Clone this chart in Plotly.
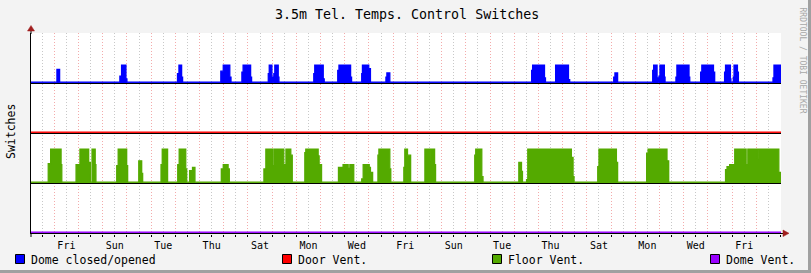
import plotly.graph_objects as go

# ---------------- data (x in days from the first Friday midnight) ----------------
X_MIN, X_MAX = -0.962, 30.02
Y_MIN, Y_MAX = -0.02, 4.0

DAY_NAMES = ["Fri", "Sat", "Sun", "Mon", "Tue", "Wed", "Thu"]   # day 0 is a Friday
FIRST_DAY, LAST_DAY = -1, 30

SERIES_NAMES = ["Dome closed/opened", "Door Vent.", "Floor Vent.", "Dome Vent."]

# (start_day, end_day, level 0..1)
DOME_OPEN = [
    (0.11, 0.22, 0.75),
    (2.71, 2.78, 0.35), (2.78, 2.96, 1.0), (2.96, 3.00, 0.2),
    (5.09, 5.15, 0.5), (5.15, 5.26, 1.0), (5.26, 5.30, 0.3),
    (6.88, 6.98, 0.65), (6.98, 7.25, 1.0), (7.25, 7.30, 0.3),
    (7.75, 7.80, 0.6), (7.80, 8.11, 1.0), (8.11, 8.15, 0.3),
    (8.84, 8.88, 0.5), (8.88, 8.99, 1.0), (8.99, 9.02, 0.3),
    (9.07, 9.11, 0.5), (9.11, 9.25, 1.0), (9.25, 9.28, 0.3),
    (10.72, 10.76, 0.5), (10.76, 11.11, 1.0), (11.11, 11.15, 0.2),
    (11.71, 11.76, 0.7), (11.76, 12.24, 1.0), (12.24, 12.28, 0.3),
    (12.70, 12.73, 0.5), (12.73, 12.99, 1.0), (12.99, 13.06, 0.8),
    (13.70, 13.74, 0.3), (13.74, 13.86, 0.55),
    (19.72, 19.76, 0.7), (19.76, 20.25, 1.0), (20.25, 20.29, 0.25),
    (20.71, 21.24, 1.0), (21.24, 21.29, 0.15),
    (23.11, 23.16, 0.3), (23.16, 23.27, 0.55),
    (24.72, 24.76, 0.7), (24.76, 24.90, 1.0), (24.90, 24.94, 0.25),
    (24.98, 25.02, 0.35), (25.02, 25.20, 1.0), (25.20, 25.23, 0.3),
    (25.68, 25.72, 0.3), (25.72, 26.22, 1.0), (26.22, 26.25, 0.3),
    (26.70, 26.75, 0.6), (26.75, 27.23, 1.0), (27.23, 27.28, 0.6),
    (27.69, 27.73, 0.6), (27.73, 27.93, 1.0), (27.93, 27.95, 0.2),
    (28.05, 28.08, 0.3), (28.08, 28.22, 1.0), (28.22, 28.26, 0.6),
    (29.69, 29.73, 0.25), (29.73, 30.02, 1.0),
]

DOOR_VENT = []

FLOOR_VENT = [
    (-0.25, -0.15, 0.56), (-0.15, 0.28, 1.0), (0.28, 0.31, 0.53),
    (0.90, 1.06, 0.53), (1.06, 1.42, 1.0), (1.42, 1.49, 0.6),
    (1.56, 1.69, 1.0), (1.69, 1.72, 0.53),
    (2.58, 2.64, 0.5), (2.64, 2.99, 1.0), (2.99, 3.03, 0.5),
    (3.49, 3.61, 0.65), (3.61, 3.65, 0.27),
    (4.41, 4.46, 0.53), (4.46, 4.68, 1.0),
    (5.10, 5.16, 0.53), (5.16, 5.43, 1.0), (5.43, 5.47, 0.4),
    (5.59, 5.71, 0.35), (5.71, 5.81, 0.45),
    (6.90, 6.98, 0.4), (6.98, 7.18, 0.53), (7.18, 7.23, 0.4),
    (8.66, 8.74, 0.4), (8.74, 9.04, 1.0), (9.04, 9.10, 0.5), (9.10, 9.48, 1.0),
    (9.48, 9.57, 0.53), (9.57, 9.77, 1.0), (9.77, 9.83, 0.82),
    (10.35, 10.39, 0.9), (10.39, 10.90, 1.0), (10.90, 10.94, 0.8), (10.94, 11.04, 0.53),
    (11.74, 11.93, 0.45), (11.93, 12.14, 0.53), (12.14, 12.21, 0.42), (12.21, 12.37, 0.53),
    (12.70, 12.76, 0.1), (12.76, 13.01, 0.53), (13.01, 13.06, 0.45), (13.06, 13.15, 0.3),
    (13.37, 13.41, 0.82), (13.41, 13.86, 1.0), (13.86, 13.90, 0.4),
    (14.44, 14.48, 0.45), (14.48, 14.59, 1.0), (14.59, 14.72, 0.82),
    (15.31, 15.55, 1.0), (15.55, 15.59, 0.65), (15.59, 15.71, 1.0), (15.71, 15.75, 0.53),
    (17.37, 17.41, 0.82), (17.41, 17.66, 1.0), (17.66, 17.71, 0.17),
    (19.19, 19.30, 0.6), (19.30, 19.34, 0.33),
    (19.51, 19.56, 0.08), (19.56, 21.36, 1.0), (21.36, 21.43, 0.75), (21.43, 21.47, 0.17),
    (22.45, 22.50, 0.47), (22.50, 23.22, 1.0), (23.22, 23.27, 0.6),
    (24.47, 24.53, 0.88), (24.53, 25.31, 1.0), (25.31, 25.38, 0.65),
    (27.73, 27.79, 0.38), (27.79, 27.90, 0.47), (27.90, 28.11, 0.53),
    (28.11, 28.58, 1.0), (28.58, 28.65, 0.53), (28.65, 29.03, 1.0),
    (29.03, 29.08, 0.71), (29.08, 29.93, 1.0), (29.93, 30.02, 0.3),
]

DOME_VENT = []

SERIES_DATA = [DOME_OPEN, DOOR_VENT, FLOOR_VENT, DOME_VENT]

# ---------------- styling / layout constants ----------------
SERIES_COLORS = ["#0000FF", "#FF0000", "#54AA00", "#9900FF"]
SERIES_BASE = [3, 2, 1, 0]
SERIES_AMP = [0.355, 0.0, 0.675, 0.0]
LIFT = 0.016
BLACK_OFF = -0.01
MONO = "DejaVu Sans Mono"

W, H = 811, 273
L, R, T, B = 31, 30, 33, 39
PW, PH = W - L - R, H - T - B


def px(xp):
    return (xp - L) / PW


def py(yp):
    return (H - B - yp) / PH


def step_series(segs):
    xs, ys = [X_MIN], [0.0]
    for s, e, v in segs:
        if abs(xs[-1] - s) < 1e-9:
            ys[-1] = v
        else:
            xs.append(s)
            ys.append(v)
        xs.append(e)
        ys.append(0.0)
    if xs[-1] < X_MAX:
        xs.append(X_MAX)
        ys.append(0.0)
    return xs, ys


fig = go.Figure()

# black reference lines first
for base in SERIES_BASE:
    fig.add_trace(go.Scatter(x=[X_MIN, X_MAX], y=[base + BLACK_OFF] * 2, mode="lines",
                             line=dict(color="#000000", width=1), hoverinfo="skip",
                             showlegend=False))

for name, segs, color, base, amp in zip(SERIES_NAMES, SERIES_DATA, SERIES_COLORS,
                                        SERIES_BASE, SERIES_AMP):
    xs, vs = step_series(segs)
    ys = [base + LIFT + max(amp - LIFT, 0) * v for v in vs]
    fig.add_trace(go.Scatter(x=[X_MIN, X_MAX], y=[base, base], mode="lines",
                             line=dict(width=0), hoverinfo="skip", showlegend=False))
    fig.add_trace(go.Scatter(x=xs, y=ys, mode="lines", line_shape="hv",
                             line=dict(color=color, width=1.3), fill="tonexty",
                             fillcolor=color, name=name, showlegend=False))

tickvals, ticktext = [], []
for k in range(FIRST_DAY, LAST_DAY):
    tickvals.append(k + 0.5)
    ticktext.append(DAY_NAMES[k % 7] if k % 2 == 0 else "")

shapes = []
# axis extensions and arrows
shapes.append(dict(type="line", xref="paper", yref="paper", x0=px(31), x1=px(31),
                   y0=py(34), y1=py(28), line=dict(color="#000000", width=1)))
shapes.append(dict(type="line", xref="paper", yref="paper", x0=px(31), x1=px(31),
                   y0=py(234), y1=py(237), line=dict(color="#000000", width=1)))
shapes.append(dict(type="path", xref="paper", yref="paper",
                   path=f"M {px(31)},{py(25.5)} L {px(27.5)},{py(31)} L {px(34.5)},{py(31)} Z",
                   fillcolor="#A01E1E", line=dict(color="#A01E1E", width=0.5)))
shapes.append(dict(type="line", xref="paper", yref="paper", x0=px(780), x1=px(784),
                   y0=py(233.5), y1=py(233.5), line=dict(color="#000000", width=1)))
shapes.append(dict(type="path", xref="paper", yref="paper",
                   path=f"M {px(789)},{py(233.3)} L {px(783)},{py(230)} L {px(783)},{py(236.6)} Z",
                   fillcolor="#A01E1E", line=dict(color="#A01E1E", width=0.5)))
# 3D-ish frame (right / bottom)
shapes.append(dict(type="rect", xref="paper", yref="paper", x0=px(808), x1=px(811),
                   y0=py(273), y1=py(0), fillcolor="#A0A0A0", line=dict(width=0)))
shapes.append(dict(type="rect", xref="paper", yref="paper", x0=px(0), x1=px(811),
                   y0=py(273), y1=py(270), fillcolor="#A0A0A0", line=dict(width=0)))

annotations = []
annotations.append(dict(text="3.5m Tel. Temps. Control Switches", xref="paper", yref="paper",
                        x=px(407), y=py(14), xanchor="center", yanchor="middle",
                        showarrow=False, font=dict(family=MONO, size=13.3, color="#000000")))
annotations.append(dict(text="Switches", xref="paper", yref="paper", x=px(11), y=py(132),
                        xanchor="center", yanchor="middle", textangle=-90, showarrow=False,
                        font=dict(family=MONO, size=11.5, color="#000000")))
annotations.append(dict(text="RRDTOOL / TOBI OETIKER", xref="paper", yref="paper",
                        x=px(802.5), y=py(60), xanchor="center", yanchor="middle",
                        textangle=90, showarrow=False,
                        font=dict(family=MONO, size=8, color="#A8A8A8")))

LEGEND_SQ_X = [15, 282, 492, 710]
for name, color, sx in zip(SERIES_NAMES, SERIES_COLORS, LEGEND_SQ_X):
    shapes.append(dict(type="rect", xref="paper", yref="paper", x0=px(sx + 0.5),
                       x1=px(sx + 9.5), y0=py(263.5), y1=py(254.5), fillcolor=color,
                       line=dict(color="#000000", width=1)))
    annotations.append(dict(text=name, xref="paper", yref="paper", x=px(sx + 14),
                            y=py(259.5), xanchor="left", yanchor="middle", showarrow=False,
                            font=dict(family=MONO, size=11.5, color="#000000")))

fig.update_layout(
    width=W, height=H, autosize=False,
    margin=dict(l=L, r=R, t=T, b=B, pad=0),
    paper_bgcolor="#F3F3F3", plot_bgcolor="#FFFFFF",
    showlegend=False,
    shapes=shapes, annotations=annotations,
    xaxis=dict(range=[X_MIN, X_MAX], tickmode="array", tickvals=tickvals, ticktext=ticktext,
               showgrid=True, gridcolor="#C8C8C8", griddash="1px,2px", gridwidth=1,
               ticks="outside", ticklen=2, tickcolor="#000000", showline=False,
               zeroline=False, tickfont=dict(family=MONO, size=10, color="#000000"),
               minor=dict(tick0=0, dtick=1, showgrid=True, gridcolor="#F3ABAB",
                          griddash="1px,2px", gridwidth=1, ticks="outside", ticklen=2,
                          tickcolor="#000000")),
    yaxis=dict(range=[Y_MIN, Y_MAX], showgrid=False, showticklabels=False, ticks="",
               zeroline=False, showline=True, linecolor="#000000", linewidth=1),
)

fig.write_html("out.html")
